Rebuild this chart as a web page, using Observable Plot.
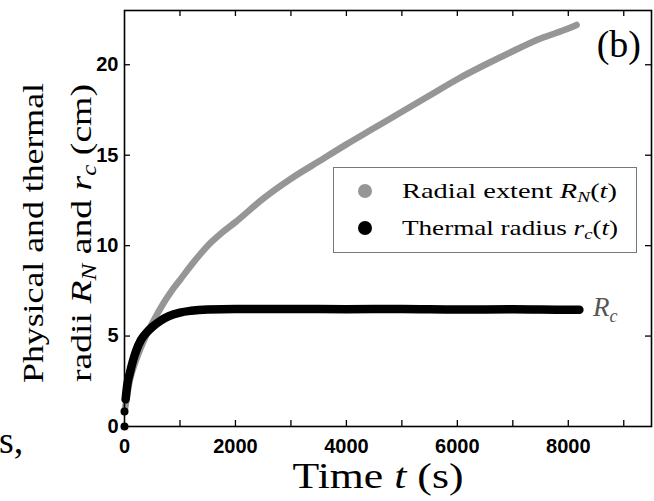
<!DOCTYPE html>
<html>
<head>
<meta charset="utf-8">
<script src="https://cdn.jsdelivr.net/npm/d3@7"></script>
<script src="https://cdn.jsdelivr.net/npm/@observablehq/plot@0.6"></script>
<style>
  html, body { margin: 0; padding: 0; background: #fff; }
  #chart { position: relative; width: 654px; height: 501px; overflow: hidden; }
  #chart svg { display: block; }
</style>
</head>
<body>
<div id="chart"></div>
<script>
// ---- data ----
const rnTime = [0, 100, 200, 300, 400, 550, 700, 850, 1000, 1250, 1500, 1750, 2000, 2500, 3000, 3500, 4000, 4500, 5000, 5500, 6000, 6500, 7000, 7500, 8000, 8150];
const rnRadius = [0.8, 2.6, 3.6, 4.4, 5.1, 6.0, 6.8, 7.5, 8.1, 9.1, 10.0, 10.7, 11.3, 12.6, 13.7, 14.65, 15.6, 16.5, 17.4, 18.3, 19.2, 20.0, 20.75, 21.45, 22.0, 22.2];

const rcTime = [20, 50, 100, 150, 200, 300, 400, 500, 650, 800, 1000, 1200, 1500, 2000, 3000, 4000, 5000, 6000, 7000, 8000, 8200];
const rcRadius = [1.5, 2.3, 3.0, 3.6, 4.1, 4.8, 5.2, 5.5, 5.85, 6.1, 6.3, 6.4, 6.47, 6.5, 6.5, 6.48, 6.5, 6.47, 6.48, 6.45, 6.45];

const rcStartTime = [0, 0];
const rcStartRadius = [0, 0.83];

const xTickLabels = [0, 2000, 4000, 6000, 8000];
const xTicks = [1000, 2000, 3000, 4000, 5000, 6000, 7000, 8000, 9000];
const yTickLabels = [0, 5, 10, 15, 20];
const yTicks = [5, 10, 15, 20];

const legendLabels = ["Radial extent", "Thermal radius"];

// ---- build tables ----
const rn = rnTime.map((t, i) => ({t, r: rnRadius[i]}));
const rc = rcTime.map((t, i) => ({t, r: rcRadius[i]}));
const rcStart = rcStartTime.map((t, i) => ({t, r: rcStartRadius[i]}));

const W = 654, H = 501;
const mL = 124, mR = 3, mT = 10, mB = 75;
const frameW = W - mL - mR, frameH = H - mT - mB;
const tickLen = 6;
const GRAY = "#969696";
const tickFont = "'Liberation Sans', Arial, sans-serif";
const serif = "'Liberation Serif', 'Times New Roman', serif";

const plot = Plot.plot({
  width: W, height: H,
  marginLeft: mL, marginRight: mR, marginTop: mT, marginBottom: mB,
  style: {fontFamily: tickFont, fontSize: "20px", color: "#000", background: "#fff"},
  x: {domain: [0, 9500]},
  y: {domain: [0, 23]},
  marks: [
    Plot.line(rn, {x: "t", y: "r", stroke: GRAY, strokeWidth: 6.5, curve: "monotone-x", strokeLinecap: "round", strokeLinejoin: "round"}),
    Plot.line(rc, {x: "t", y: "r", stroke: "#000", strokeWidth: 8.5, curve: "monotone-x", strokeLinecap: "round", strokeLinejoin: "round"}),
    Plot.dot(rcStart, {x: "t", y: "r", r: 4, fill: "#000", stroke: "none"}),
    // inward ticks on all four sides
    Plot.tickX(xTicks, {x: d => d, stroke: "#000", strokeWidth: 1.3, insetTop: frameH - tickLen}),
    Plot.tickX(xTicks, {x: d => d, stroke: "#000", strokeWidth: 1.3, insetBottom: frameH - tickLen}),
    Plot.tickY(yTicks, {y: d => d, stroke: "#000", strokeWidth: 1.3, insetRight: frameW - tickLen}),
    Plot.tickY(yTicks, {y: d => d, stroke: "#000", strokeWidth: 1.3, insetLeft: frameW - tickLen}),
    Plot.axisX({ticks: xTickLabels, tickSize: 0, tickPadding: 12, label: null, tickFormat: d => String(d),
      fontWeight: "bold", fontSize: 20, fontFamily: tickFont}),
    Plot.axisY({ticks: yTickLabels, tickSize: 0, tickPadding: 6, label: null, tickFormat: d => String(d),
      fontWeight: "bold", fontSize: 20, fontFamily: tickFont}),
    Plot.frame({stroke: "#000", strokeWidth: 1.6})
  ]
});

document.getElementById("chart").appendChild(plot);

const svg = d3.select(plot);
svg.selectAll('g[aria-label="x-axis tick label"] text, g[aria-label="y-axis tick label"] text')
  .style("font-weight", "bold");

const xs = plot.scale("x"), ys = plot.scale("y");

function addText(g, parts, attrs) {
  const t = g.append("text").attr("text-anchor", "start");
  for (const [k, v] of Object.entries(attrs)) t.attr(k, v);
  for (const p of parts) {
    const s = t.append("tspan").text(p.text);
    if (p.italic) s.attr("font-style", "italic");
    if (p.sub) s.attr("font-size", p.sub);
    if (p.dy) s.attr("dy", p.dy);
  }
  return t;
}

const ann = svg.append("g").attr("font-family", serif).attr("font-weight", "normal").attr("fill", "#000");

// (b)
ann.append("text").attr("x", mL + frameW - 10).attr("y", 57).attr("text-anchor", "end")
  .attr("font-size", 38).text("(b)");

// R_c label at the end of the thermal radius series
const lastRc = rc[rc.length - 1];
addText(ann, [
  {text: "R", italic: true},
  {text: "c", italic: true, sub: 18, dy: 6}
], {x: xs.apply(lastRc.t) + 14, y: ys.apply(lastRc.r) + 7, "font-size": 27, fill: "#555"});

// Y label (two rotated lines)
const yMid = 233;
addText(ann, [{text: "Physical and thermal"}], {
  transform: `translate(43,${yMid}) rotate(-90)`, "text-anchor": "middle", "font-size": 30,
  textLength: 300, lengthAdjust: "spacingAndGlyphs"
});
addText(ann, [
  {text: "radii "},
  {text: "R", italic: true},
  {text: "N", italic: true, sub: 20, dy: 5},
  {text: " and ", dy: -5},
  {text: "r", italic: true},
  {text: "c", italic: true, sub: 20, dy: 5},
  {text: " (cm)", dy: -5}
], {
  transform: `translate(91,${yMid}) rotate(-90)`, "text-anchor": "middle", "font-size": 30,
  textLength: 298, lengthAdjust: "spacingAndGlyphs"
});

// X label
addText(ann, [
  {text: "Time "},
  {text: "t", italic: true},
  {text: " (s)"}
], {x: 378, y: 488, "text-anchor": "middle", "font-size": 36, textLength: 171, lengthAdjust: "spacingAndGlyphs"});

// caption fragment at lower left
addText(ann, [{text: "s,"}], {x: -1, y: 453, "font-size": 38});

// Legend
const lg = svg.append("g").attr("font-family", serif).attr("font-weight", "normal").attr("fill", "#000");
lg.append("rect").attr("x", 333.5).attr("y", 167.5).attr("width", 303).attr("height", 85)
  .attr("fill", "#fff").attr("stroke", "#777").attr("stroke-width", 1);
lg.append("circle").attr("cx", 365).attr("cy", 191).attr("r", 7).attr("fill", GRAY);
lg.append("circle").attr("cx", 365).attr("cy", 228).attr("r", 7).attr("fill", "#000");
addText(lg, [
  {text: legendLabels[0] + " "},
  {text: "R", italic: true},
  {text: "N", italic: true, sub: 15, dy: 4},
  {text: "(", dy: -4},
  {text: "t", italic: true},
  {text: ")"}
], {x: 402, y: 198, "font-size": 22, textLength: 215, lengthAdjust: "spacingAndGlyphs"});
addText(lg, [
  {text: legendLabels[1] + " "},
  {text: "r", italic: true},
  {text: "c", italic: true, sub: 15, dy: 4},
  {text: "(", dy: -4},
  {text: "t", italic: true},
  {text: ")"}
], {x: 402, y: 235, "font-size": 22, textLength: 216, lengthAdjust: "spacingAndGlyphs"});
</script>
</body>
</html>
